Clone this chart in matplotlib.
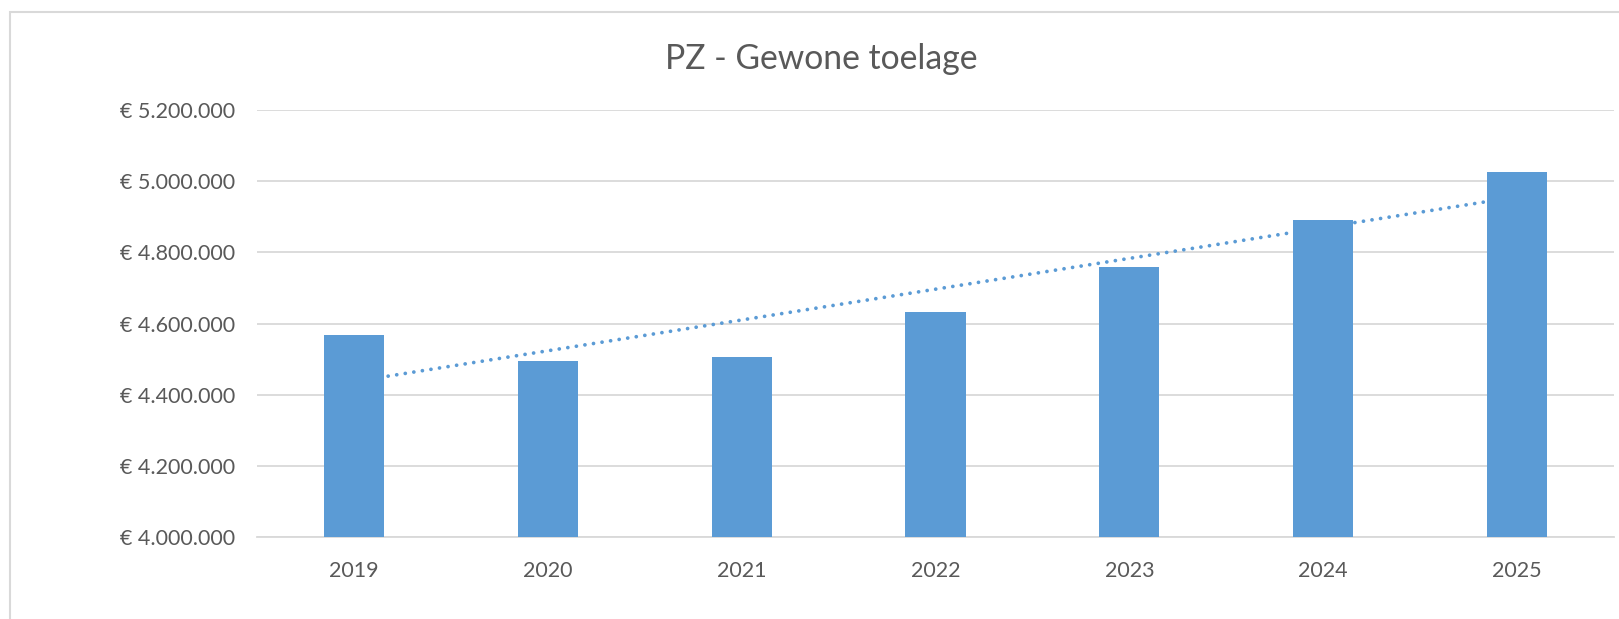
import numpy as np
import matplotlib
matplotlib.use("Agg")
import matplotlib.pyplot as plt
from matplotlib.patches import Rectangle
from matplotlib.ticker import FuncFormatter

# data
years = ["2019", "2020", "2021", "2022", "2023", "2024", "2025"]
amounts = [4568000, 4494000, 4505000, 4631000, 4760000, 4891000, 5026000]
y_ticks = [4000000, 4200000, 4400000, 4600000, 4800000, 5000000, 5200000]

blue = "#5B9BD5"
grey_text = "#595959"
grid_col = "#D9D9D9"

plt.rcParams["font.family"] = ["Lato", "DejaVu Sans"]

fig = plt.figure(figsize=(16.19, 6.19), dpi=100)
ax = fig.add_axes([257 / 1619, 1 - 537 / 619, (1614 - 257) / 1619, (537 - 110) / 619])

x = np.arange(len(years))
ax.bar(x, amounts, width=0.31, color=blue, zorder=3)

# linear trendline, drawn behind the bars like in the original
coef = np.polyfit(x, amounts, 1)
ax.plot(x, np.polyval(coef, x), color=blue, lw=2.7,
        linestyle=(0, (0.01, 2.3)), dash_capstyle="round", zorder=2)

ax.set_xlim(-0.5, len(years) - 0.5)
ax.set_ylim(y_ticks[0], y_ticks[-1])
ax.set_yticks(y_ticks)
ax.yaxis.set_major_formatter(FuncFormatter(lambda v, p: "€ " + f"{int(v):,}".replace(",", ".")))
ax.set_xticks(x)
ax.set_xticklabels(years)

ax.grid(axis="y", color=grid_col, lw=1.3, zorder=0)
for s in ["top", "right", "left"]:
    ax.spines[s].set_visible(False)
ax.spines["bottom"].set_color(grid_col)
ax.spines["bottom"].set_linewidth(1.3)
ax.tick_params(axis="both", length=0, labelsize=15.5, labelcolor=grey_text)
ax.tick_params(axis="y", pad=16)
ax.tick_params(axis="x", pad=17)

fig.text(821 / 1619, 1 - 59 / 619, "PZ - Gewone toelage", ha="center", va="center",
         fontsize=24.3, color=grey_text)

# chart frame (only top and left edge fall inside the picture)
fig.patches.append(Rectangle((9.5 / 1619, -0.1), 1.2, 1 - 12 / 619 + 0.1,
                             transform=fig.transFigure, fill=False,
                             edgecolor=grid_col, lw=1.5, clip_on=False))

fig.savefig("out.png", dpi=100, facecolor="white")
